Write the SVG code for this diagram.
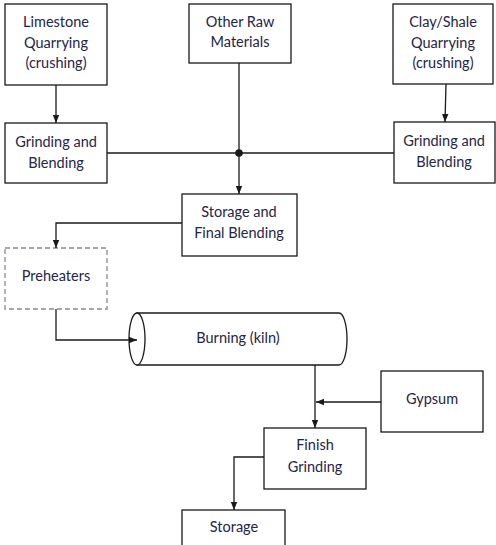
<svg xmlns="http://www.w3.org/2000/svg" width="496" height="545" viewBox="0 0 496 545">
<defs>
<style>
.box{fill:#fff;stroke:#1a1a1a;stroke-width:1.3}
.dash{fill:#fff;stroke:#8a8a8a;stroke-width:1.3;stroke-dasharray:5 3}
.ln{fill:none;stroke:#1a1a1a;stroke-width:1.3}
text{font-family:Lato,"Open Sans",sans-serif;font-size:14.5px;fill:#25244a;text-anchor:middle}
</style>
<marker id="ah" viewBox="0 0 8 8" refX="8" refY="4" markerWidth="8" markerHeight="8" markerUnits="userSpaceOnUse" orient="auto">
<path d="M0,0.8 L8,4 L0,7.2 Z" fill="#1a1a1a"/>
</marker>
</defs>
<rect width="496" height="545" fill="#fff"/>
<g id="limestone">
<rect class="box" x="5" y="4" width="102" height="81"/>
<text x="56" y="27">Limestone</text>
<text x="56" y="48">Quarrying</text>
<text x="56" y="68">(crushing)</text>
</g>
<g id="other-raw">
<rect class="box" x="189" y="4" width="102" height="59"/>
<text x="240" y="27">Other Raw</text>
<text x="240" y="47">Materials</text>
</g>
<g id="clay">
<rect class="box" x="393" y="4" width="100" height="80"/>
<text x="443" y="27">Clay/Shale</text>
<text x="443" y="48">Quarrying</text>
<text x="443" y="68">(crushing)</text>
</g>
<g id="grind-left">
<rect class="box" x="5" y="123" width="102" height="60"/>
<text x="56" y="147">Grinding and</text>
<text x="56" y="168">Blending</text>
</g>
<g id="grind-right">
<rect class="box" x="394" y="122" width="101" height="61"/>
<text x="444" y="146">Grinding and</text>
<text x="444" y="167">Blending</text>
</g>
<g id="storage-final">
<rect class="box" x="182" y="194" width="115" height="62"/>
<text x="239" y="217">Storage and</text>
<text x="239" y="238">Final Blending</text>
</g>
<g id="preheaters">
<rect class="dash" x="5" y="248" width="102" height="61"/>
<text x="56" y="281">Preheaters</text>
</g>
<g id="kiln">
<path class="box" d="M137,313 H339 A8,26 0 0 1 339,365 H137 Z"/>
<ellipse class="box" cx="137" cy="339" rx="8" ry="26"/>
<text x="238" y="343">Burning (kiln)</text>
</g>
<g id="gypsum">
<rect class="box" x="381" y="371" width="102" height="61"/>
<text x="432" y="404">Gypsum</text>
</g>
<g id="finish">
<rect class="box" x="264" y="428" width="102" height="61"/>
<text x="315" y="450">Finish</text>
<text x="315" y="472">Grinding</text>
</g>
<g id="storage">
<rect class="box" x="182" y="510" width="103" height="45"/>
<text x="234" y="532">Storage</text>
</g>
<g id="connectors">
<path class="ln" d="M56,85 V123" marker-end="url(#ah)"/>
<path class="ln" d="M446,84 L445,122" marker-end="url(#ah)"/>
<path class="ln" d="M239,63 V194" marker-end="url(#ah)"/>
<path class="ln" d="M107,153 H394"/>
<circle cx="239" cy="153" r="3.8" fill="#1a1a1a"/>
<path class="ln" d="M182,223 H56 V248" marker-end="url(#ah)"/>
<path class="ln" d="M56,309 V340 H137" marker-end="url(#ah)"/>
<path class="ln" d="M315,365 V428" marker-end="url(#ah)"/>
<path class="ln" d="M381,402 H316" marker-end="url(#ah)"/>
<path class="ln" d="M264,457 H234 V510" marker-end="url(#ah)"/>
</g>
</svg>
